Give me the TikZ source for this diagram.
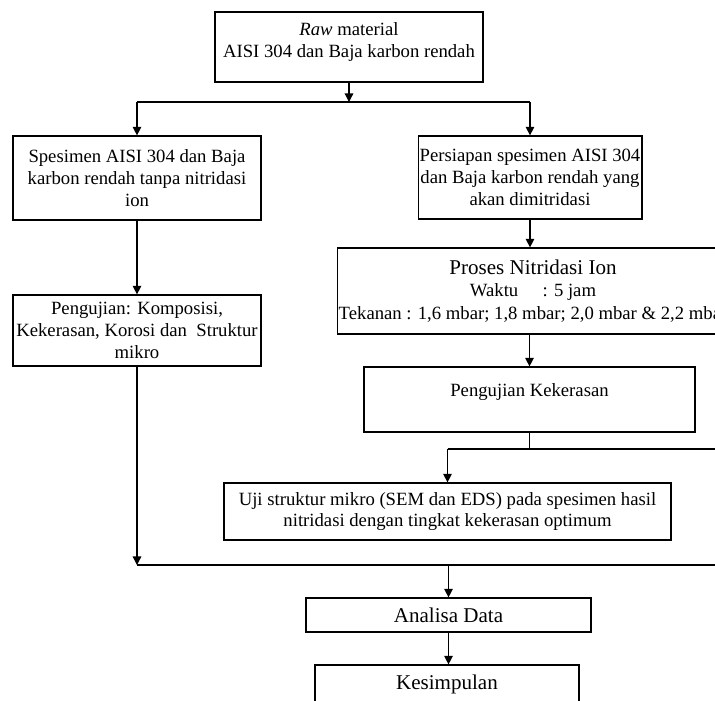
\documentclass[tikz,border=0pt]{standalone}
\usepackage{fontspec}
\setmainfont{Liberation Serif}
\usetikzlibrary{arrows.meta}
\begin{document}
\begin{tikzpicture}[x=0.642pt,y=-0.642pt,line width=0.8pt,color=black,
    >={Triangle[length=5.5pt,width=5.5pt,fill=black]},
    box/.style={draw=black,align=center,inner sep=1pt,font=\fontsize{12pt}{14pt}\selectfont},
    big/.style={font=\fontsize{13.5pt}{15pt}\selectfont}]
    \useasboundingbox (0,0) rectangle (715,700);
    \node[box,minimum width=172.1pt,minimum height=44.9pt,text depth=9pt] (raw) at (349,47) {\textit{Raw} material\\AISI 304 dan Baja karbon rendah};
    \node[box,minimum width=159.2pt,minimum height=53.9pt] (spes) at (137,178) {Spesimen AISI 304 dan Baja\\karbon rendah tanpa nitridasi\\ion};
    \node[box,minimum width=159.2pt,minimum height=45.6pt] (uji) at (137,330.5) {Pengujian: Komposisi,\\Kekerasan, Korosi dan\ \ Struktur\\mikro};
    \node[box,minimum width=142.5pt,minimum height=53.3pt] (prep) at (530,177.5) {Persiapan spesimen AISI 304\\dan Baja karbon rendah yang\\akan dimitridasi};
    \node[box,minimum width=250.4pt,minimum height=55.2pt] (nitr) at (533,291) {{\fontsize{13.5pt}{14pt}\selectfont Proses Nitridasi Ion}\\Waktu\hspace{1.3em}: 5 jam\\[1pt]Tekanan : 1,6 mbar; 1,8 mbar; 2,0 mbar \& 2,2 mbar};
    \node[box,minimum width=212.5pt,minimum height=41.7pt,text depth=11.6pt] (keras) at (529.5,399.5) {Pengujian Kekerasan};
    \node[box,minimum width=287pt,minimum height=36.6pt] (mikro) at (447.5,511.5) {Uji struktur mikro (SEM dan EDS) pada spesimen hasil\\nitridasi dengan tingkat kekerasan optimum};
    \node[box,big,minimum width=183pt,minimum height=21.8pt] (analisa) at (448.5,615) {Analisa Data};
    \node[box,big,minimum width=169.5pt,minimum height=25pt] (simpul) at (447,684.5) {Kesimpulan};
    \coordinate (jtop) at (349,102);
    \coordinate (jmid) at (715,449);
    \coordinate (jbot) at (715,565);
    \draw[->] (raw.south) -- (jtop);
    \draw (spes.north |- jtop) -- (prep.north |- jtop);
    \draw[->] (spes.north |- jtop) -- (spes.north);
    \draw[->] (prep.north |- jtop) -- (prep.north);
    \draw[->] (spes.south) -- (uji.north);
    \draw[->] (uji.south) -- (uji.south |- jbot);
    \draw (uji.south |- jbot) -- (jbot);
    \draw[->] (prep.south) -- (prep.south |- nitr.north);
    \draw[->] (keras.north |- nitr.south) -- (keras.north);
    \draw (keras.south) -- (keras.south |- jmid);
    \draw (mikro.north |- jmid) -- (jmid);
    \draw[->] (mikro.north |- jmid) -- (mikro.north);
    \draw[->] (analisa.north |- jbot) -- (analisa.north);
    \draw[->] (analisa.south) -- (analisa.south |- simpul.north);
\end{tikzpicture}
\end{document}
